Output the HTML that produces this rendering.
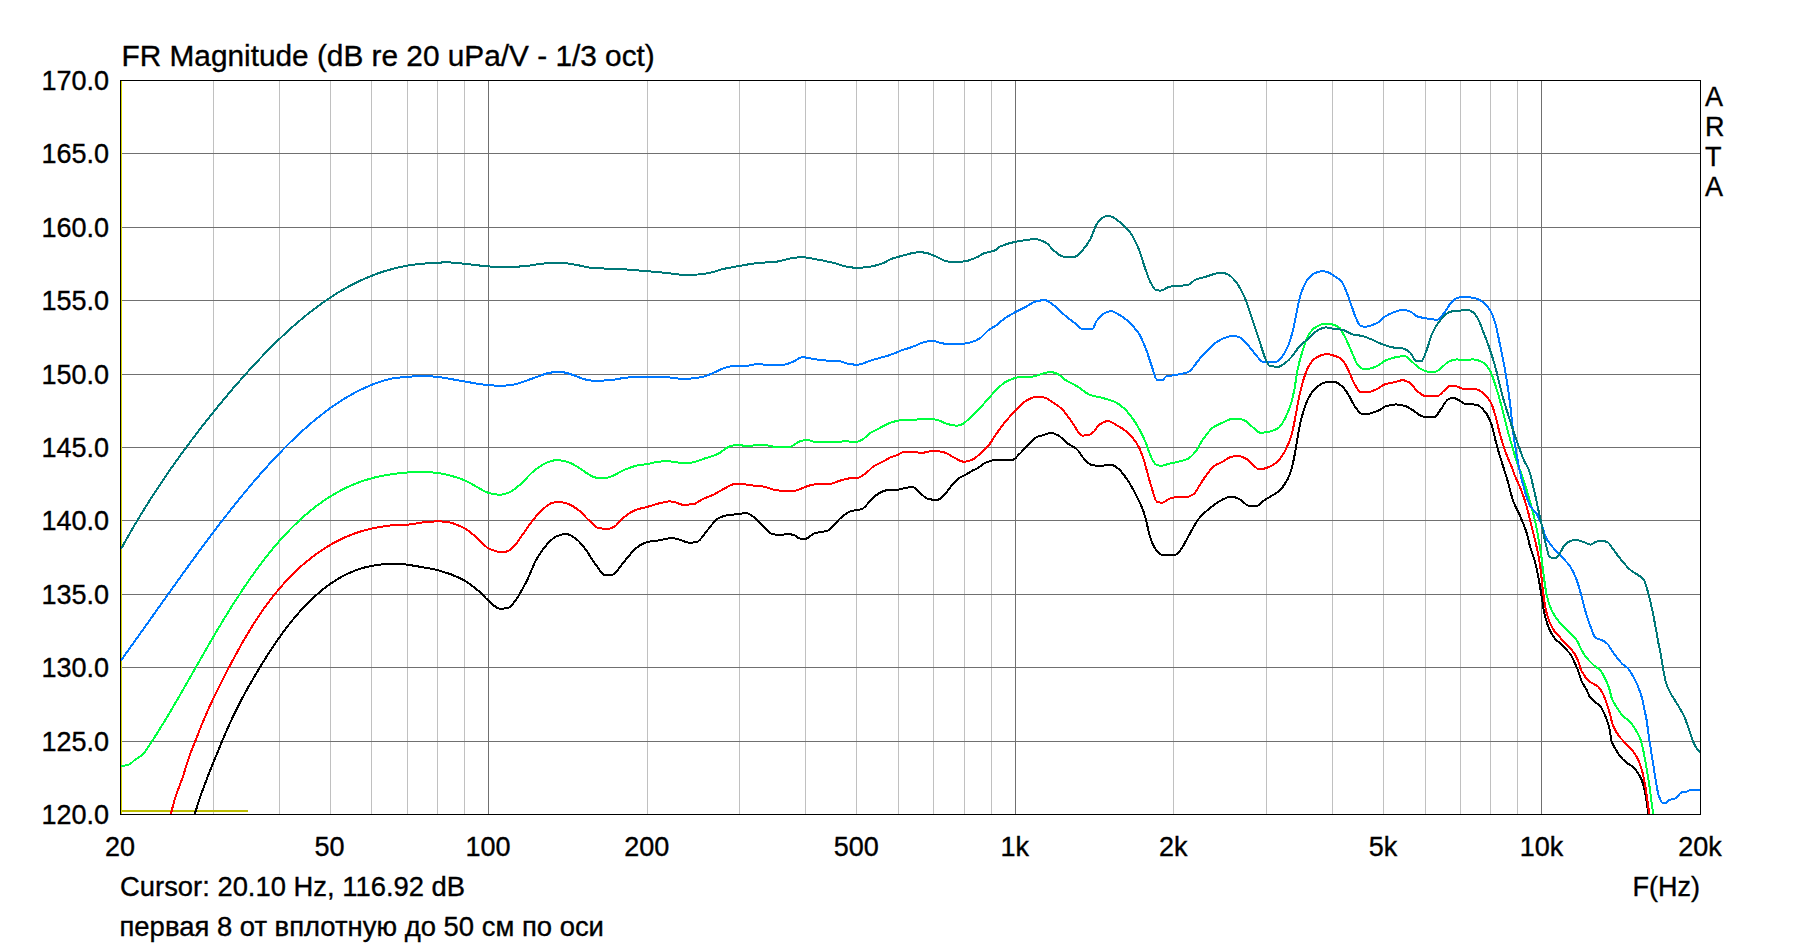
<!DOCTYPE html>
<html lang="ru"><head><meta charset="utf-8"><title>FR Magnitude</title>
<style>
html,body{margin:0;padding:0;background:#fff;}
body{width:1820px;height:946px;overflow:hidden;position:relative;font-family:"Liberation Sans",sans-serif;color:#000;}
svg{position:absolute;left:0;top:0;display:block}
text{font-family:"Liberation Sans",sans-serif;fill:#000;font-size:27px;stroke:#000;stroke-width:.35px}
.g line{shape-rendering:crispEdges}
.c path{fill:none;stroke-width:2;stroke-linejoin:round;stroke-linecap:butt;shape-rendering:crispEdges}
</style></head><body>
<svg width="1820" height="946" viewBox="0 0 1820 946">
<rect width="1820" height="946" fill="#fff"/>
<defs><clipPath id="cp"><rect x="121" y="81" width="1579" height="733"/></clipPath></defs>
<g class="g">
<line x1="213.5" y1="81" x2="213.5" y2="814" stroke="#c0c0c0"/>
<line x1="279.5" y1="81" x2="279.5" y2="814" stroke="#c0c0c0"/>
<line x1="330.5" y1="81" x2="330.5" y2="814" stroke="#c0c0c0"/>
<line x1="371.5" y1="81" x2="371.5" y2="814" stroke="#c0c0c0"/>
<line x1="407.5" y1="81" x2="407.5" y2="814" stroke="#c0c0c0"/>
<line x1="437.5" y1="81" x2="437.5" y2="814" stroke="#c0c0c0"/>
<line x1="464.5" y1="81" x2="464.5" y2="814" stroke="#c0c0c0"/>
<line x1="647.5" y1="81" x2="647.5" y2="814" stroke="#c0c0c0"/>
<line x1="739.5" y1="81" x2="739.5" y2="814" stroke="#c0c0c0"/>
<line x1="805.5" y1="81" x2="805.5" y2="814" stroke="#c0c0c0"/>
<line x1="856.5" y1="81" x2="856.5" y2="814" stroke="#c0c0c0"/>
<line x1="898.5" y1="81" x2="898.5" y2="814" stroke="#c0c0c0"/>
<line x1="933.5" y1="81" x2="933.5" y2="814" stroke="#c0c0c0"/>
<line x1="964.5" y1="81" x2="964.5" y2="814" stroke="#c0c0c0"/>
<line x1="991.5" y1="81" x2="991.5" y2="814" stroke="#c0c0c0"/>
<line x1="1173.5" y1="81" x2="1173.5" y2="814" stroke="#c0c0c0"/>
<line x1="1266.5" y1="81" x2="1266.5" y2="814" stroke="#c0c0c0"/>
<line x1="1332.5" y1="81" x2="1332.5" y2="814" stroke="#c0c0c0"/>
<line x1="1383.5" y1="81" x2="1383.5" y2="814" stroke="#c0c0c0"/>
<line x1="1425.5" y1="81" x2="1425.5" y2="814" stroke="#c0c0c0"/>
<line x1="1460.5" y1="81" x2="1460.5" y2="814" stroke="#c0c0c0"/>
<line x1="1490.5" y1="81" x2="1490.5" y2="814" stroke="#c0c0c0"/>
<line x1="1517.5" y1="81" x2="1517.5" y2="814" stroke="#c0c0c0"/>
<line x1="488.5" y1="81" x2="488.5" y2="814" stroke="#707070"/>
<line x1="1015.5" y1="81" x2="1015.5" y2="814" stroke="#707070"/>
<line x1="1541.5" y1="81" x2="1541.5" y2="814" stroke="#707070"/>
<line x1="121" y1="153.5" x2="1700" y2="153.5" stroke="#707070"/>
<line x1="121" y1="227.5" x2="1700" y2="227.5" stroke="#707070"/>
<line x1="121" y1="300.5" x2="1700" y2="300.5" stroke="#707070"/>
<line x1="121" y1="374.5" x2="1700" y2="374.5" stroke="#707070"/>
<line x1="121" y1="447.5" x2="1700" y2="447.5" stroke="#707070"/>
<line x1="121" y1="520.5" x2="1700" y2="520.5" stroke="#707070"/>
<line x1="121" y1="594.5" x2="1700" y2="594.5" stroke="#707070"/>
<line x1="121" y1="667.5" x2="1700" y2="667.5" stroke="#707070"/>
<line x1="121" y1="741.5" x2="1700" y2="741.5" stroke="#707070"/>
</g>
<g class="g"><line x1="122" y1="811" x2="248" y2="811" stroke="#bcbc00" stroke-width="2"/><line x1="121.5" y1="81" x2="121.5" y2="814" stroke="#d4d400"/></g>
<g class="c" clip-path="url(#cp)">
<path stroke="#000000" d="M191.8 824.1C194.1 816.4 196.5 808.1 198.8 801.1C201.1 794.1 203.5 787.9 205.8 781.7C208.1 775.5 210.5 769.7 212.8 763.9C215.1 758.1 217.5 752.4 219.8 746.8C222.1 741.2 224.5 735.6 226.8 730.3C229.1 725.0 231.5 719.8 233.8 714.9C236.1 710.0 238.5 705.3 240.8 700.9C243.1 696.4 245.5 692.2 247.8 688.0C250.1 683.9 252.5 679.9 254.8 675.9C257.1 672.0 259.5 668.1 261.8 664.3C264.1 660.5 266.5 656.7 268.8 653.1C271.1 649.5 273.5 645.9 275.8 642.6C278.1 639.2 280.5 635.9 282.8 632.7C285.1 629.5 287.5 626.4 289.8 623.5C292.1 620.6 294.5 617.7 296.8 615.0C299.1 612.3 301.5 609.7 303.8 607.2C306.1 604.7 308.5 602.3 310.8 600.1C313.1 597.8 315.5 595.7 317.8 593.7C320.1 591.6 322.5 589.7 324.8 587.9C327.1 586.1 329.5 584.4 331.8 582.8C334.1 581.3 336.5 579.8 338.8 578.4C341.1 577.1 343.5 575.8 345.8 574.6C348.1 573.5 350.5 572.4 352.8 571.5C355.1 570.5 357.5 569.7 359.8 568.9C362.1 568.2 364.5 567.5 366.8 566.9C369.1 566.4 371.5 565.9 373.8 565.5C376.1 565.1 378.5 564.7 380.8 564.5C383.1 564.3 385.5 564.1 387.8 564.0C390.1 564.0 392.5 564.0 394.8 564.0C397.4 564.0 399.9 564.1 402.5 564.2C407.6 564.5 412.7 565.6 417.9 566.4C424.5 567.5 431.1 568.6 437.7 570.2C445.7 572.2 453.8 575.0 461.8 579.0C467.7 581.9 473.6 586.7 479.4 591.7C482.4 594.2 485.3 598.1 488.2 600.5C492.2 603.8 496.1 608.7 500.0 608.7C502.6 608.7 505.1 608.5 507.7 608.2C509.9 608.0 512.1 604.6 514.3 602.1C516.1 599.9 518.0 596.8 519.8 593.7C522.4 589.5 524.9 584.6 527.5 579.4C530.4 573.5 533.4 564.8 536.3 559.6C539.6 553.8 542.9 549.0 546.2 545.3C549.5 541.7 552.8 537.9 556.1 536.5C559.4 535.2 562.7 533.9 566.0 533.9C569.3 533.9 572.6 536.5 575.9 538.7C579.2 541.0 582.5 545.5 585.8 549.7C589.4 554.4 593.1 561.7 596.8 566.2C599.7 569.8 602.6 575.5 605.6 575.5C608.1 575.5 610.7 575.0 613.2 574.4C616.5 573.6 619.8 566.7 623.1 562.9C627.9 557.5 632.7 550.4 637.4 547.1C640.7 544.8 644.0 542.8 647.3 542.0C651.0 541.2 654.7 541.1 658.3 540.5C662.7 539.8 667.1 538.1 671.5 538.1C673.7 538.1 675.9 538.7 678.1 539.2C681.8 540.0 685.4 542.7 689.1 542.7C691.7 542.7 694.2 542.4 696.8 542.0C700.1 541.5 703.4 534.7 706.7 531.1C710.7 526.6 714.8 519.7 718.8 517.9C722.1 516.4 725.4 515.4 728.7 515.0C732.0 514.5 735.3 514.5 738.6 514.1C741.2 513.8 743.7 513.0 746.3 513.0C750.0 513.0 753.6 517.2 757.3 520.1C760.2 522.4 763.1 526.2 766.1 528.9C768.3 530.8 770.5 534.1 772.7 534.3C775.6 534.6 778.5 534.8 781.5 534.8C783.7 534.8 785.9 533.9 788.1 533.9C790.3 533.9 792.5 534.7 794.7 535.4C796.5 536.1 798.3 538.7 800.2 538.7C802.0 538.7 803.8 538.7 805.7 538.7C808.6 538.7 811.5 534.2 814.5 533.2C818.9 531.9 823.3 532.1 827.7 530.6C832.1 529.2 836.4 521.3 840.8 517.9C844.1 515.3 847.4 512.3 850.7 511.3C854.4 510.1 858.1 510.3 861.7 509.1C865.8 507.7 869.8 500.0 873.8 497.0C876.8 494.7 879.7 492.5 882.6 491.5C885.1 490.6 887.5 489.5 890.0 489.5C892.9 489.5 895.9 489.5 898.8 489.5C901.0 489.5 903.2 488.0 905.4 487.8C908.0 487.4 910.5 487.1 913.1 487.1C915.3 487.1 917.5 490.8 919.7 492.6C922.6 494.9 925.6 498.8 928.5 499.2C931.4 499.6 934.3 499.8 937.3 499.8C939.5 499.8 941.7 497.4 943.9 495.4C946.4 493.2 949.0 488.4 951.6 485.6C954.1 482.7 956.7 479.6 959.3 477.9C961.5 476.4 963.7 475.8 965.9 474.6C968.1 473.4 970.3 471.8 972.5 470.6C974.3 469.6 976.1 469.0 978.0 468.0C980.2 466.7 982.4 464.0 984.6 463.1C989.0 461.3 993.4 459.6 997.8 459.6C1002.9 459.6 1008.0 459.6 1013.1 459.6C1015.0 459.6 1016.8 456.5 1018.6 454.8C1021.9 451.7 1025.2 448.0 1028.5 444.9C1031.5 442.1 1034.4 437.9 1037.3 436.7C1039.5 435.8 1041.7 435.6 1043.9 435.0C1046.1 434.3 1048.3 432.8 1050.5 432.8C1053.1 432.8 1055.7 434.2 1058.2 435.4C1061.5 437.0 1064.8 441.4 1068.1 443.8C1071.1 445.9 1074.0 446.7 1076.9 449.3C1079.1 451.2 1081.3 455.8 1083.5 458.1C1086.4 461.1 1089.4 465.0 1092.3 465.3C1095.2 465.6 1098.2 465.8 1101.1 465.8C1104.4 465.8 1107.7 464.7 1111.0 464.7C1113.6 464.7 1116.1 467.1 1118.7 469.1C1121.6 471.3 1124.6 475.8 1127.5 480.1C1130.4 484.3 1133.4 489.7 1136.3 495.4C1138.5 499.7 1140.7 503.8 1142.9 509.7C1144.0 512.7 1145.1 516.6 1146.2 520.7C1147.3 524.9 1148.4 531.6 1149.5 535.0C1151.3 540.8 1153.1 545.6 1155.0 548.2C1157.2 551.4 1159.4 554.8 1161.6 554.8C1166.0 554.8 1170.4 554.8 1174.8 554.8C1176.6 554.8 1178.4 552.4 1180.3 550.4C1183.2 547.3 1186.1 540.0 1189.1 535.0C1192.4 529.4 1195.7 522.6 1199.0 518.5C1202.6 514.1 1206.3 510.9 1210.0 508.0C1214.0 504.8 1218.0 501.8 1222.1 499.8C1225.0 498.5 1227.9 496.5 1230.8 496.5C1233.8 496.5 1236.7 497.9 1239.6 499.2C1242.6 500.4 1245.5 505.3 1248.4 505.8C1251.0 506.2 1253.6 506.4 1256.1 506.4C1258.7 506.4 1261.3 502.2 1263.8 500.5C1265.9 499.1 1267.9 498.1 1270.0 496.8C1272.8 495.1 1275.6 493.8 1278.5 491.5C1281.3 489.1 1284.1 485.6 1286.9 480.6C1288.6 477.7 1290.2 473.3 1291.8 467.8C1293.0 463.7 1294.2 457.2 1295.4 450.9C1296.6 444.5 1297.8 435.0 1299.0 429.1C1300.7 421.3 1302.3 414.7 1303.9 409.7C1305.5 404.8 1307.1 400.5 1308.7 397.6C1311.1 393.3 1313.6 390.0 1316.0 388.0C1318.8 385.5 1321.6 383.0 1324.5 382.6C1327.7 382.2 1330.9 381.9 1334.1 381.9C1337.0 381.9 1339.8 384.4 1342.6 386.7C1344.6 388.4 1346.6 392.0 1348.7 395.2C1350.7 398.4 1352.7 403.4 1354.7 406.1C1357.1 409.4 1359.5 413.9 1362.0 413.9C1363.6 413.9 1365.2 413.9 1366.8 413.9C1370.4 413.9 1374.1 412.3 1377.7 410.9C1380.5 409.9 1383.3 406.9 1386.2 406.1C1389.4 405.2 1392.6 404.4 1395.9 404.4C1399.1 404.4 1402.3 405.2 1405.5 406.1C1408.0 406.8 1410.4 408.7 1412.8 410.2C1415.2 411.7 1417.6 414.3 1420.1 415.3C1422.5 416.3 1424.9 417.5 1427.3 417.5C1429.7 417.5 1432.2 417.3 1434.6 417.0C1436.6 416.7 1438.6 412.3 1440.6 409.7C1443.0 406.6 1445.5 401.0 1447.9 399.6C1449.5 398.6 1451.1 397.6 1452.7 397.6C1454.7 397.6 1456.8 399.1 1458.8 400.1C1460.8 401.0 1462.8 403.3 1464.8 403.7C1468.9 404.4 1472.9 404.1 1476.9 404.9C1479.8 405.4 1482.6 408.7 1485.4 412.2C1487.4 414.6 1489.4 418.8 1491.5 424.3C1493.1 428.6 1494.7 437.7 1496.3 443.6C1497.9 449.5 1499.5 454.7 1501.1 460.0C1503.1 466.6 1505.2 472.5 1507.2 479.4C1509.2 486.2 1511.2 495.6 1513.2 501.1C1515.7 507.7 1518.1 511.1 1520.5 516.9C1522.5 521.7 1524.5 526.1 1526.5 532.6C1527.8 536.5 1529.0 543.0 1530.2 547.1C1531.8 552.7 1533.4 555.7 1535.0 561.7C1536.2 566.1 1537.4 572.2 1538.6 578.6C1539.5 582.9 1540.3 588.3 1541.1 593.1C1542.3 600.4 1543.5 610.0 1544.7 614.9C1546.3 621.5 1547.9 626.0 1549.5 629.4C1551.7 634.1 1553.9 637.8 1556.1 640.0C1557.8 641.8 1559.6 642.3 1561.4 644.0C1562.2 644.8 1563.1 646.2 1564.0 647.3C1566.2 649.9 1568.4 651.3 1570.6 654.5C1571.9 656.5 1573.3 659.6 1574.6 662.5C1575.9 665.3 1577.2 668.1 1578.5 671.7C1579.4 674.1 1580.3 678.2 1581.2 680.3C1583.0 684.5 1584.7 686.1 1586.5 689.6C1587.6 691.7 1588.7 695.3 1589.8 696.8C1593.5 702.2 1597.3 702.3 1601.0 707.4C1602.3 709.2 1603.7 712.4 1605.0 715.3C1605.6 716.8 1606.3 718.2 1607.0 720.0C1607.8 722.5 1608.7 725.3 1609.6 729.3C1610.3 732.2 1610.9 739.0 1611.6 741.1C1612.9 745.3 1614.2 746.7 1615.6 749.1C1617.1 751.8 1618.6 754.4 1620.2 756.3C1622.2 758.8 1624.1 760.7 1626.1 762.3C1628.3 764.1 1630.5 765.0 1632.7 766.9C1634.5 768.5 1636.3 770.3 1638.0 772.9C1639.3 774.8 1640.7 777.4 1642.0 780.8C1642.9 783.1 1643.7 786.1 1644.6 790.0C1645.3 793.0 1645.9 797.9 1646.6 801.9C1647.3 805.9 1647.9 810.0 1648.6 814.1"/>
<path stroke="#ff0000" d="M168.3 824.5C170.6 815.5 172.9 804.9 175.3 797.4C177.6 790.0 179.9 785.3 182.3 778.5C184.6 771.7 186.9 763.2 189.3 756.6C191.6 750.0 193.9 744.5 196.3 738.6C198.6 732.7 200.9 726.6 203.3 721.0C205.6 715.4 207.9 710.1 210.3 705.0C212.6 699.9 214.9 695.1 217.3 690.4C219.6 685.6 221.9 681.0 224.3 676.4C226.6 671.9 228.9 667.4 231.3 663.0C233.6 658.6 235.9 654.3 238.3 650.0C240.6 645.8 242.9 641.7 245.3 637.7C247.6 633.7 249.9 629.9 252.3 626.1C254.6 622.4 256.9 618.8 259.3 615.3C261.6 611.9 263.9 608.5 266.3 605.3C268.6 602.1 270.9 599.1 273.3 596.1C275.6 593.2 277.9 590.3 280.3 587.6C282.6 584.9 284.9 582.3 287.3 579.8C289.6 577.3 291.9 574.9 294.3 572.7C296.6 570.4 298.9 568.2 301.3 566.1C303.6 564.0 305.9 562.0 308.3 560.2C310.6 558.3 312.9 556.5 315.3 554.7C317.6 553.0 319.9 551.4 322.3 549.9C324.6 548.3 326.9 546.8 329.3 545.5C331.6 544.1 333.9 542.8 336.3 541.6C338.6 540.3 340.9 539.2 343.3 538.1C345.6 537.1 347.9 536.1 350.3 535.1C352.6 534.2 354.9 533.4 357.3 532.6C359.6 531.8 361.9 531.1 364.3 530.4C366.6 529.8 368.9 529.2 371.3 528.7C373.6 528.1 375.9 527.7 378.3 527.2C380.6 526.8 382.9 526.5 385.3 526.1C387.6 525.8 389.9 525.5 392.3 525.3C394.6 525.0 396.9 524.6 399.3 524.6C401.8 524.6 404.3 524.7 406.9 524.7C412.0 524.7 417.1 523.0 422.3 522.5C427.4 522.0 432.5 521.4 437.7 521.4C440.6 521.4 443.5 521.6 446.4 521.8C452.3 522.3 458.2 525.1 464.0 528.0C469.2 530.5 474.3 535.7 479.4 540.1C482.4 542.6 485.3 546.8 488.2 548.2C492.2 550.1 496.1 551.9 500.0 551.9C502.2 551.9 504.4 551.8 506.6 551.5C508.8 551.2 511.0 549.0 513.2 547.1C516.1 544.5 519.1 539.4 522.0 535.4C525.7 530.5 529.3 524.6 533.0 520.1C535.9 516.4 538.8 512.7 541.8 510.2C545.1 507.3 548.4 504.0 551.7 503.1C554.2 502.4 556.8 501.8 559.4 501.8C562.3 501.8 565.2 503.0 568.2 504.0C571.8 505.3 575.5 507.8 579.2 510.6C582.1 512.8 585.0 516.8 588.0 519.4C591.6 522.7 595.3 527.7 599.0 528.2C601.9 528.6 604.8 528.9 607.8 528.9C610.0 528.9 612.1 527.7 614.3 526.7C617.3 525.2 620.2 520.1 623.1 517.9C627.5 514.4 631.9 511.3 636.3 509.7C640.0 508.4 643.7 507.9 647.3 506.9C651.0 505.8 654.7 504.4 658.3 503.6C662.0 502.7 665.7 501.4 669.3 501.4C671.5 501.4 673.7 502.0 675.9 502.5C678.1 503.0 680.3 504.7 682.5 504.7C686.2 504.7 689.8 504.5 693.5 504.2C696.4 504.0 699.4 500.6 702.3 499.2C706.0 497.4 709.6 496.5 713.3 494.8C717.0 493.1 720.6 490.4 724.3 488.6C727.6 487.0 730.9 484.2 734.2 484.2C736.8 484.2 739.3 484.2 741.9 484.2C745.6 484.2 749.2 485.1 752.9 485.5C756.6 485.9 760.2 486.1 763.9 486.6C767.5 487.2 771.2 489.4 774.9 489.9C778.5 490.5 782.2 491.0 785.9 491.0C788.8 491.0 791.7 490.9 794.7 490.8C797.6 490.7 800.5 488.7 803.5 487.7C807.1 486.5 810.8 484.4 814.5 484.4C818.9 484.4 823.3 484.4 827.7 484.4C831.3 484.4 835.0 482.2 838.6 481.1C842.3 480.1 846.0 478.7 849.6 478.3C852.6 477.9 855.5 478.0 858.4 477.6C860.6 477.3 862.8 475.4 865.0 473.9C868.0 471.9 870.9 468.1 873.8 466.2C877.5 463.8 881.2 462.7 884.8 460.7C886.6 459.7 888.3 458.4 890.0 457.6C892.2 456.7 894.4 456.3 896.6 455.4C899.2 454.4 901.7 451.9 904.3 451.9C907.6 451.9 910.9 451.9 914.2 451.9C916.4 451.9 918.6 453.0 920.8 453.0C925.2 453.0 929.6 450.8 934.0 450.8C937.6 450.8 941.3 451.6 945.0 452.6C947.9 453.3 950.8 456.0 953.8 457.4C957.1 459.0 960.4 461.8 963.7 461.8C966.6 461.8 969.5 460.7 972.5 459.6C975.0 458.6 977.6 455.9 980.2 453.7C983.1 451.1 986.0 448.4 989.0 444.9C991.2 442.2 993.4 438.1 995.6 435.0C998.5 430.8 1001.4 426.5 1004.3 422.9C1008.0 418.4 1011.7 414.6 1015.3 410.8C1018.3 407.7 1021.2 403.8 1024.1 402.0C1028.5 399.3 1032.9 396.5 1037.3 396.5C1040.3 396.5 1043.2 397.2 1046.1 398.0C1048.3 398.7 1050.5 400.9 1052.7 402.4C1055.7 404.4 1058.6 405.9 1061.5 408.6C1065.2 411.9 1068.9 418.1 1072.5 422.9C1075.8 427.2 1079.1 435.6 1082.4 435.6C1084.6 435.6 1086.8 435.4 1089.0 435.0C1090.8 434.6 1092.7 432.8 1094.5 431.0C1096.0 429.6 1097.4 426.1 1098.9 425.1C1101.8 423.0 1104.8 421.1 1107.7 421.1C1110.6 421.1 1113.6 423.5 1116.5 425.1C1120.2 427.0 1123.8 429.2 1127.5 432.3C1130.4 434.8 1133.4 438.1 1136.3 442.7C1138.5 446.1 1140.7 451.0 1142.9 457.0C1144.4 461.0 1145.8 467.2 1147.3 472.4C1148.8 477.5 1150.2 483.4 1151.7 487.8C1153.5 493.2 1155.3 501.6 1157.2 502.0C1159.0 502.5 1160.8 502.7 1162.7 502.7C1164.9 502.7 1167.1 499.5 1169.3 498.7C1171.5 498.0 1173.7 497.3 1175.9 497.2C1179.5 497.1 1183.2 497.1 1186.9 497.0C1189.1 496.9 1191.3 495.7 1193.5 494.3C1195.7 493.0 1197.9 487.8 1200.1 484.5C1202.3 481.2 1204.5 477.4 1206.7 474.6C1209.2 471.2 1211.8 467.5 1214.4 465.8C1216.9 464.0 1219.5 463.4 1222.1 462.0C1225.0 460.5 1227.9 457.7 1230.8 457.0C1233.0 456.4 1235.2 455.9 1237.4 455.9C1240.0 455.9 1242.6 457.0 1245.1 458.1C1247.7 459.2 1250.3 462.6 1252.8 464.7C1255.0 466.4 1257.2 469.5 1259.4 469.5C1263.0 469.5 1266.5 468.0 1270.0 466.6C1272.4 465.6 1274.8 464.0 1277.3 461.8C1280.1 459.2 1282.9 455.0 1285.7 449.7C1287.7 445.9 1289.8 440.8 1291.8 433.9C1293.0 429.8 1294.2 423.0 1295.4 417.0C1296.6 411.0 1297.8 403.2 1299.0 397.6C1300.7 390.2 1302.3 383.2 1303.9 378.3C1305.5 373.3 1307.1 368.8 1308.7 366.2C1311.1 362.2 1313.6 359.0 1316.0 357.7C1319.6 355.7 1323.2 354.1 1326.9 354.1C1329.7 354.1 1332.5 355.1 1335.3 356.0C1337.8 356.8 1340.2 358.0 1342.6 360.1C1344.6 361.9 1346.6 367.0 1348.7 371.0C1350.7 375.0 1352.7 381.0 1354.7 384.3C1356.7 387.7 1358.7 392.3 1360.8 392.3C1362.8 392.3 1364.8 392.3 1366.8 392.3C1370.0 392.3 1373.3 390.5 1376.5 389.2C1379.3 388.0 1382.1 385.2 1385.0 384.3C1388.6 383.1 1392.2 382.8 1395.9 381.9C1398.1 381.4 1400.4 380.2 1402.6 380.2C1405.2 380.2 1407.8 381.6 1410.4 383.1C1412.4 384.3 1414.4 388.7 1416.4 390.4C1419.7 393.1 1422.9 396.4 1426.1 396.4C1429.7 396.4 1433.4 396.4 1437.0 396.4C1439.4 396.4 1441.8 392.3 1444.3 390.4C1446.3 388.7 1448.3 385.5 1450.3 385.5C1452.3 385.5 1454.3 385.9 1456.4 386.3C1458.4 386.6 1460.4 388.5 1462.4 388.7C1466.8 389.0 1471.3 388.8 1475.7 389.2C1478.1 389.3 1480.6 391.1 1483.0 392.8C1485.4 394.5 1487.8 397.2 1490.2 401.3C1491.9 404.0 1493.5 409.3 1495.1 414.6C1496.7 419.8 1498.3 428.2 1499.9 433.9C1501.9 441.1 1504.0 447.8 1506.0 453.3C1508.0 458.8 1510.0 462.6 1512.0 467.8C1512.8 469.9 1513.6 472.4 1514.4 474.5C1516.9 480.7 1519.3 485.1 1521.7 491.5C1523.3 495.7 1524.9 500.4 1526.5 506.0C1527.8 510.2 1529.0 515.7 1530.2 520.5C1531.8 527.0 1533.4 532.9 1535.0 539.9C1536.2 545.1 1537.4 549.9 1538.6 556.8C1539.5 561.4 1540.3 567.4 1541.1 573.8C1541.9 580.1 1542.7 590.0 1543.5 595.5C1544.7 603.8 1545.9 610.8 1547.1 614.9C1549.1 621.8 1551.2 626.2 1553.2 629.4C1555.6 633.3 1558.0 634.8 1560.4 637.9C1561.0 638.6 1561.5 639.4 1562.0 640.0C1564.4 642.8 1566.9 644.6 1569.3 647.3C1571.1 649.2 1572.8 651.1 1574.6 653.9C1575.9 655.9 1577.2 658.5 1578.5 661.8C1579.4 664.0 1580.3 668.6 1581.2 670.4C1584.1 676.2 1586.9 679.2 1589.8 681.6C1592.6 684.0 1595.5 684.3 1598.4 686.9C1600.1 688.5 1601.9 691.9 1603.7 695.5C1605.0 698.2 1606.3 702.0 1607.6 706.1C1608.5 708.8 1609.4 712.1 1610.3 715.3C1611.1 718.5 1612.0 723.1 1612.9 725.3C1614.9 730.3 1616.9 733.2 1618.9 735.9C1621.7 739.8 1624.6 742.0 1627.4 745.1C1629.4 747.3 1631.4 749.0 1633.4 751.7C1635.4 754.4 1637.4 757.6 1639.3 762.3C1640.4 764.9 1641.5 768.5 1642.6 772.9C1643.5 776.3 1644.4 781.0 1645.3 786.1C1645.9 789.9 1646.6 794.6 1647.3 799.3C1647.9 803.9 1648.6 809.2 1649.3 814.1"/>
<path stroke="#00ff40" d="M120.9 766.4C123.8 765.7 126.7 765.5 129.5 764.4C131.3 763.7 133.1 761.1 134.8 759.8C137.5 757.8 140.1 757.0 142.8 754.6C145.1 752.5 147.4 748.0 149.8 744.5C152.1 741.1 154.4 737.5 156.8 733.8C159.1 730.1 161.4 726.3 163.8 722.5C166.1 718.7 168.4 714.8 170.8 710.8C173.1 706.9 175.4 702.9 177.8 698.8C180.1 694.8 182.4 690.7 184.8 686.7C187.1 682.6 189.4 678.5 191.8 674.4C194.1 670.3 196.4 666.2 198.8 662.1C201.1 658.0 203.4 653.9 205.8 649.9C208.1 645.8 210.4 641.8 212.8 637.8C215.1 633.8 217.4 629.9 219.8 626.0C222.1 622.1 224.4 618.2 226.8 614.4C229.1 610.7 231.4 606.9 233.8 603.2C236.1 599.6 238.4 595.9 240.8 592.4C243.1 588.9 245.4 585.4 247.8 582.0C250.1 578.6 252.4 575.3 254.8 572.1C257.1 568.8 259.4 565.7 261.8 562.6C264.1 559.5 266.4 556.5 268.8 553.6C271.1 550.7 273.4 547.9 275.8 545.2C278.1 542.4 280.4 539.8 282.8 537.2C285.1 534.7 287.4 532.2 289.8 529.8C292.1 527.4 294.4 525.1 296.8 522.9C299.1 520.6 301.4 518.5 303.8 516.4C306.1 514.4 308.4 512.4 310.8 510.5C313.1 508.6 315.4 506.8 317.8 505.0C320.1 503.3 322.4 501.7 324.8 500.1C327.1 498.5 329.4 497.0 331.8 495.6C334.1 494.2 336.4 492.8 338.8 491.5C341.1 490.3 343.4 489.1 345.8 487.9C348.1 486.8 350.4 485.8 352.8 484.8C355.1 483.8 357.4 482.9 359.8 482.0C362.1 481.2 364.4 480.4 366.8 479.7C369.1 479.0 371.4 478.3 373.8 477.7C376.1 477.1 378.4 476.6 380.8 476.1C383.1 475.6 385.4 475.2 387.8 474.8C390.1 474.4 392.4 474.1 394.8 473.8C398.8 473.4 402.8 472.8 406.9 472.5C412.0 472.2 417.1 471.9 422.3 471.9C427.4 471.9 432.5 472.4 437.7 473.0C441.3 473.4 445.0 474.3 448.6 475.2C453.8 476.4 458.9 478.0 464.0 480.0C469.2 482.1 474.3 485.7 479.4 488.4C482.4 489.9 485.3 492.0 488.2 492.8C492.2 493.8 496.1 494.8 500.0 494.8C502.9 494.8 505.9 493.6 508.8 492.6C512.5 491.2 516.1 487.9 519.8 484.9C524.2 481.3 528.6 475.2 533.0 471.7C537.4 468.2 541.8 464.5 546.2 462.9C549.8 461.5 553.5 460.0 557.2 460.0C560.8 460.0 564.5 461.2 568.2 462.2C571.8 463.3 575.5 465.8 579.2 467.9C582.1 469.7 585.0 472.3 588.0 473.9C590.9 475.5 593.8 477.8 596.8 477.8C600.4 477.8 604.1 477.8 607.8 477.6C610.7 477.5 613.6 475.2 616.5 473.9C619.5 472.5 622.4 470.7 625.3 469.5C629.0 468.0 632.7 466.5 636.3 465.7C640.0 464.9 643.7 464.6 647.3 464.0C651.0 463.3 654.7 462.2 658.3 461.8C661.3 461.5 664.2 461.1 667.1 461.1C670.1 461.1 673.0 461.8 675.9 462.2C678.9 462.6 681.8 463.5 684.7 463.5C687.6 463.5 690.6 462.8 693.5 462.2C697.2 461.5 700.8 459.7 704.5 458.5C708.9 457.0 713.3 456.1 717.7 454.1C721.4 452.4 725.0 448.2 728.7 446.8C731.3 445.9 733.8 444.8 736.4 444.8C739.7 444.8 743.0 445.9 746.3 445.9C750.0 445.9 753.6 445.3 757.3 445.3C760.2 445.3 763.1 445.3 766.1 445.3C769.0 445.3 771.9 446.8 774.9 446.8C780.0 446.8 785.1 446.8 790.3 446.8C793.2 446.8 796.1 442.5 799.1 441.6C801.6 440.7 804.2 439.8 806.8 439.8C810.1 439.8 813.4 442.4 816.7 442.4C822.5 442.4 828.4 442.4 834.2 442.4C837.9 442.4 841.6 441.3 845.2 441.3C848.9 441.3 852.6 442.0 856.2 442.0C858.4 442.0 860.6 440.6 862.8 439.4C865.0 438.1 867.2 435.1 869.4 433.6C873.1 431.1 876.8 429.6 880.4 427.7C883.6 426.0 886.8 423.9 890.0 422.9C893.7 421.7 897.3 420.5 901.0 420.2C906.1 419.9 911.3 419.9 916.4 419.6C920.1 419.4 923.7 418.5 927.4 418.5C931.0 418.5 934.7 419.4 938.4 420.2C941.3 420.9 944.2 423.2 947.2 424.0C950.5 424.8 953.8 425.7 957.1 425.7C958.9 425.7 960.7 424.8 962.6 424.0C965.5 422.7 968.4 419.0 971.4 416.3C975.0 412.9 978.7 409.2 982.4 405.3C985.3 402.2 988.2 398.6 991.2 395.4C993.4 393.0 995.6 390.4 997.8 388.4C1000.7 385.7 1003.6 382.8 1006.5 381.4C1010.9 379.3 1015.3 377.3 1019.7 377.0C1024.1 376.8 1028.5 376.9 1032.9 376.6C1036.6 376.4 1040.3 374.1 1043.9 373.3C1046.1 372.8 1048.3 372.0 1050.5 372.0C1052.7 372.0 1054.9 372.9 1057.1 373.7C1060.1 374.8 1063.0 378.5 1065.9 380.3C1069.6 382.6 1073.3 384.0 1076.9 386.2C1081.3 388.7 1085.7 393.4 1090.1 395.0C1093.8 396.2 1097.4 396.6 1101.1 397.6C1105.5 398.8 1109.9 399.7 1114.3 401.6C1117.2 402.8 1120.2 405.0 1123.1 407.5C1126.0 410.0 1129.0 413.5 1131.9 417.4C1134.8 421.3 1137.8 426.1 1140.7 431.7C1142.5 435.1 1144.4 439.3 1146.2 443.8C1147.7 447.4 1149.1 452.9 1150.6 455.9C1152.4 459.6 1154.2 464.0 1156.1 464.7C1157.9 465.3 1159.7 465.8 1161.6 465.8C1164.1 465.8 1166.7 464.2 1169.3 463.6C1172.2 462.9 1175.1 462.5 1178.1 461.8C1181.4 461.0 1184.7 460.3 1188.0 458.7C1190.5 457.5 1193.1 454.6 1195.7 451.5C1197.9 448.8 1200.1 443.6 1202.3 440.5C1205.9 435.3 1209.6 429.8 1213.3 427.3C1216.2 425.2 1219.1 424.2 1222.1 422.9C1225.0 421.5 1227.9 419.6 1230.8 419.1C1233.0 418.8 1235.2 418.5 1237.4 418.5C1240.0 418.5 1242.6 419.6 1245.1 420.7C1247.7 421.8 1250.3 425.3 1252.8 427.3C1255.4 429.3 1258.0 432.8 1260.5 432.8C1263.7 432.8 1266.8 432.2 1270.0 431.5C1272.8 430.9 1275.6 429.8 1278.5 427.9C1280.5 426.5 1282.5 423.0 1284.5 419.4C1286.5 415.9 1288.6 411.1 1290.6 404.9C1291.8 401.2 1293.0 396.2 1294.2 390.4C1295.4 384.6 1296.6 374.2 1297.8 368.6C1299.4 361.1 1301.1 355.4 1302.7 350.4C1304.7 344.2 1306.7 337.8 1308.7 334.7C1311.1 331.0 1313.6 328.3 1316.0 327.0C1318.8 325.4 1321.6 323.8 1324.5 323.8C1326.9 323.8 1329.3 324.0 1331.7 324.3C1334.1 324.6 1336.6 325.8 1339.0 327.4C1341.0 328.8 1343.0 333.4 1345.0 337.1C1347.0 340.9 1349.1 346.0 1351.1 350.4C1353.1 354.9 1355.1 361.0 1357.1 363.8C1358.7 365.9 1360.4 368.6 1362.0 368.6C1364.4 368.6 1366.8 368.6 1369.2 368.6C1372.1 368.6 1374.9 367.0 1377.7 365.7C1380.5 364.4 1383.3 361.3 1386.2 360.1C1389.4 358.8 1392.6 357.8 1395.9 357.2C1398.7 356.7 1401.5 356.0 1404.3 356.0C1406.7 356.0 1409.2 359.4 1411.6 361.3C1414.4 363.6 1417.2 367.1 1420.1 368.6C1422.5 369.9 1424.9 371.5 1427.3 371.5C1430.1 371.5 1433.0 371.5 1435.8 371.5C1437.8 371.5 1439.8 368.9 1441.8 367.4C1444.3 365.6 1446.7 362.3 1449.1 361.3C1451.5 360.4 1453.9 359.4 1456.4 359.4C1458.8 359.4 1461.2 360.1 1463.6 360.1C1466.8 360.1 1470.1 359.4 1473.3 359.4C1476.5 359.4 1479.8 360.9 1483.0 362.5C1485.4 363.8 1487.8 366.9 1490.2 371.0C1491.9 373.7 1493.5 379.5 1495.1 384.3C1496.7 389.1 1498.3 394.3 1499.9 400.1C1501.9 407.3 1504.0 416.6 1506.0 424.3C1508.0 431.9 1510.0 439.2 1512.0 446.0C1514.0 452.9 1516.1 459.8 1518.1 465.4C1519.3 468.8 1520.5 471.1 1521.7 474.5C1523.7 480.1 1525.7 487.0 1527.8 493.9C1529.8 500.7 1531.8 507.4 1533.8 515.7C1535.0 520.6 1536.2 526.3 1537.4 532.6C1538.6 539.0 1539.9 546.0 1541.1 554.4C1541.9 560.0 1542.7 567.7 1543.5 573.8C1544.3 579.8 1545.1 586.5 1545.9 590.7C1547.1 597.0 1548.3 601.9 1549.5 605.2C1551.6 610.7 1553.6 614.3 1555.6 617.3C1558.4 621.5 1561.2 624.0 1564.1 627.0C1566.9 630.0 1569.7 632.5 1572.5 635.5C1573.9 636.9 1575.2 638.1 1576.6 640.0C1578.1 642.2 1579.6 646.5 1581.2 649.3C1582.5 651.6 1583.8 654.1 1585.2 655.9C1588.2 660.0 1591.3 663.0 1594.4 665.8C1596.4 667.5 1598.4 668.2 1600.4 670.4C1601.9 672.1 1603.4 675.3 1605.0 678.3C1606.3 680.9 1607.6 683.8 1608.9 687.6C1610.0 690.7 1611.1 696.9 1612.2 699.5C1613.8 703.1 1615.3 705.0 1616.9 707.4C1619.1 710.8 1621.3 714.6 1623.5 716.7C1625.0 718.1 1626.6 718.6 1628.1 720.0C1630.5 722.1 1633.0 725.4 1635.4 729.3C1637.1 732.0 1638.9 734.9 1640.7 739.8C1641.5 742.3 1642.4 746.3 1643.3 750.4C1644.0 753.4 1644.6 757.2 1645.3 761.0C1645.9 764.7 1646.6 768.9 1647.3 772.9C1647.9 776.8 1648.6 780.4 1649.3 784.8C1649.9 789.1 1650.6 794.4 1651.2 799.3C1651.9 804.2 1652.6 809.2 1653.2 814.1"/>
<path stroke="#0078ff" d="M120.9 660.5C123.3 657.2 125.6 654.0 127.9 650.7C130.3 647.5 132.6 644.2 134.9 641.0C137.3 637.7 139.6 634.4 141.9 631.1C144.3 627.8 146.6 624.6 148.9 621.3C151.3 618.0 153.6 614.7 155.9 611.4C158.3 608.1 160.6 604.8 162.9 601.5C165.3 598.3 167.6 595.0 169.9 591.7C172.3 588.4 174.6 585.2 176.9 581.9C179.3 578.7 181.6 575.4 183.9 572.2C186.3 568.9 188.6 565.7 190.9 562.5C193.3 559.3 195.6 556.1 197.9 552.9C200.3 549.8 202.6 546.6 204.9 543.5C207.3 540.4 209.6 537.2 211.9 534.1C214.3 531.1 216.6 528.0 218.9 524.9C221.3 521.9 223.6 518.9 225.9 515.9C228.3 512.9 230.6 509.9 232.9 507.0C235.3 504.1 237.6 501.2 239.9 498.3C242.3 495.4 244.6 492.6 246.9 489.8C249.3 487.0 251.6 484.2 253.9 481.5C256.3 478.8 258.6 476.1 260.9 473.4C263.3 470.8 265.6 468.2 267.9 465.6C270.3 463.0 272.6 460.5 274.9 458.0C277.3 455.5 279.6 453.1 281.9 450.7C284.3 448.3 286.6 445.9 288.9 443.6C291.3 441.3 293.6 439.1 295.9 436.9C298.3 434.7 300.6 432.5 302.9 430.4C305.3 428.3 307.6 426.2 309.9 424.2C312.3 422.2 314.6 420.3 316.9 418.4C319.3 416.5 321.6 414.7 323.9 412.9C326.3 411.1 328.6 409.4 330.9 407.7C333.3 406.0 335.6 404.4 337.9 402.9C340.3 401.3 342.6 399.8 344.9 398.4C347.3 397.0 349.6 395.6 351.9 394.3C354.3 393.0 356.6 391.8 358.9 390.6C361.3 389.5 363.6 388.3 365.9 387.3C368.3 386.3 370.6 385.3 372.9 384.4C375.3 383.5 377.6 382.6 379.9 381.9C382.3 381.1 384.6 380.4 386.9 379.8C389.3 379.1 391.6 378.4 393.9 378.1C398.3 377.5 402.6 377.3 406.9 377.0C412.0 376.6 417.1 375.9 422.3 375.9C427.4 375.9 432.5 376.5 437.7 377.0C446.4 377.8 455.2 380.0 464.0 381.4C472.1 382.7 480.2 384.5 488.2 385.1C492.2 385.4 496.1 385.8 500.0 385.8C503.7 385.8 507.3 385.5 511.0 385.1C515.4 384.7 519.8 382.8 524.2 381.4C528.6 380.0 533.0 378.2 537.4 376.8C541.8 375.3 546.2 373.1 550.6 372.6C553.9 372.2 557.2 371.9 560.5 371.9C563.8 371.9 567.1 373.2 570.4 374.1C574.8 375.3 579.2 377.9 583.6 379.0C586.5 379.7 589.4 380.7 592.4 380.7C598.2 380.7 604.1 380.6 610.0 380.3C614.3 380.1 618.7 378.6 623.1 378.1C627.5 377.6 631.9 377.0 636.3 377.0C645.9 377.0 655.4 377.0 664.9 377.0C669.3 377.0 673.7 378.5 678.1 378.5C682.5 378.5 686.9 378.5 691.3 378.5C695.7 378.5 700.1 377.4 704.5 376.3C708.2 375.5 711.8 373.5 715.5 371.9C718.4 370.7 721.4 368.9 724.3 368.0C727.2 367.1 730.2 366.1 733.1 366.0C737.5 365.9 741.9 365.9 746.3 365.8C750.0 365.7 753.6 364.2 757.3 364.2C761.7 364.2 766.1 364.9 770.5 364.9C774.9 364.9 779.3 364.8 783.7 364.7C786.6 364.6 789.5 363.1 792.5 362.0C795.8 360.8 799.1 357.2 802.4 357.2C805.7 357.2 809.0 358.3 812.3 358.7C816.7 359.4 821.1 360.3 825.5 360.5C829.9 360.7 834.2 360.7 838.6 360.9C842.3 361.2 846.0 363.9 849.6 364.2C852.6 364.5 855.5 364.7 858.4 364.7C862.1 364.7 865.8 362.1 869.4 360.9C874.6 359.3 879.7 358.0 884.8 356.5C886.6 356.0 888.3 355.6 890.0 355.0C893.7 353.8 897.3 352.0 901.0 350.6C905.4 349.0 909.8 347.9 914.2 346.2C917.1 345.1 920.1 343.2 923.0 342.5C926.3 341.7 929.6 340.7 932.9 340.7C935.4 340.7 938.0 342.4 940.6 342.9C942.8 343.4 945.0 344.0 947.2 344.0C951.6 344.0 956.0 344.0 960.4 344.0C964.4 344.0 968.4 342.9 972.5 341.8C975.0 341.1 977.6 339.7 980.2 338.1C983.1 336.2 986.0 331.9 989.0 329.7C991.2 328.1 993.4 327.3 995.6 325.8C998.5 323.8 1001.4 320.8 1004.3 318.7C1008.0 316.2 1011.7 314.1 1015.3 312.1C1019.0 310.2 1022.7 308.6 1026.3 306.7C1029.3 305.1 1032.2 302.3 1035.1 301.6C1038.4 300.8 1041.7 300.1 1045.0 300.1C1047.6 300.1 1050.2 302.7 1052.7 304.5C1056.4 307.0 1060.1 311.2 1063.7 314.3C1067.4 317.5 1071.1 320.3 1074.7 323.1C1077.3 325.2 1079.8 329.1 1082.4 329.1C1085.7 329.1 1089.0 329.0 1092.3 328.9C1093.8 328.8 1095.2 322.9 1096.7 320.9C1099.3 317.6 1101.8 314.5 1104.4 313.2C1106.6 312.2 1108.8 311.1 1111.0 311.1C1113.2 311.1 1115.4 312.8 1117.6 313.9C1120.5 315.4 1123.5 317.4 1126.4 319.8C1130.4 323.2 1134.5 327.1 1138.5 333.0C1141.1 336.8 1143.6 343.1 1146.2 349.5C1148.0 354.2 1149.8 361.0 1151.7 366.0C1153.5 371.0 1155.3 379.9 1157.2 379.9C1159.0 379.9 1160.8 379.9 1162.7 379.9C1163.8 379.9 1164.9 376.9 1166.0 376.6C1168.5 375.8 1171.1 375.7 1173.7 375.3C1178.4 374.4 1183.2 373.9 1188.0 372.2C1192.0 370.7 1196.0 362.6 1200.1 358.3C1205.2 352.8 1210.3 346.5 1215.5 342.9C1218.4 340.9 1221.3 339.1 1224.2 338.1C1227.2 337.1 1230.1 335.9 1233.0 335.9C1235.2 335.9 1237.4 336.6 1239.6 337.4C1241.8 338.2 1244.0 340.8 1246.2 342.9C1249.2 345.8 1252.1 350.8 1255.0 353.9C1258.0 357.1 1260.9 362.1 1263.8 362.3C1265.9 362.4 1267.9 362.5 1270.0 362.5C1272.0 362.5 1274.0 362.2 1276.1 361.8C1278.1 361.4 1280.1 358.9 1282.1 356.5C1284.1 354.1 1286.1 350.3 1288.2 345.6C1289.8 341.8 1291.4 336.1 1293.0 329.9C1294.2 325.2 1295.4 318.6 1296.6 312.9C1297.8 307.3 1299.0 299.9 1300.3 296.0C1302.3 289.4 1304.3 284.5 1306.3 281.5C1308.7 277.8 1311.1 274.9 1313.6 273.7C1316.4 272.3 1319.2 271.1 1322.0 271.1C1324.1 271.1 1326.1 271.7 1328.1 272.3C1330.5 273.0 1332.9 275.0 1335.3 276.6C1337.4 278.0 1339.4 279.1 1341.4 281.5C1343.0 283.3 1344.6 287.4 1346.2 291.1C1347.9 294.9 1349.5 300.0 1351.1 304.5C1352.7 308.9 1354.3 314.3 1355.9 317.8C1357.5 321.2 1359.1 325.9 1360.8 326.2C1362.4 326.5 1364.0 326.7 1365.6 326.7C1369.6 326.7 1373.7 324.6 1377.7 322.6C1380.1 321.4 1382.5 318.1 1385.0 316.6C1387.8 314.8 1390.6 313.4 1393.4 312.4C1396.7 311.3 1399.9 309.8 1403.1 309.8C1405.5 309.8 1408.0 310.8 1410.4 311.7C1412.8 312.6 1415.2 315.8 1417.6 316.6C1420.9 317.6 1424.1 318.0 1427.3 318.5C1430.5 319.0 1433.8 319.7 1437.0 319.7C1439.4 319.7 1441.8 315.7 1444.3 312.9C1446.3 310.6 1448.3 306.0 1450.3 303.7C1452.3 301.5 1454.3 299.2 1456.4 298.4C1458.8 297.5 1461.2 296.7 1463.6 296.7C1467.7 296.7 1471.7 297.5 1475.7 298.4C1478.1 299.0 1480.6 300.3 1483.0 302.0C1485.4 303.7 1487.8 306.6 1490.2 310.5C1491.9 313.1 1493.5 317.4 1495.1 322.6C1496.7 327.8 1498.3 336.7 1499.9 344.4C1501.5 352.0 1503.1 359.5 1504.8 368.6C1506.4 377.7 1508.0 388.2 1509.6 400.1C1511.2 411.9 1512.8 430.6 1514.4 441.2C1516.9 457.2 1519.3 469.8 1521.7 479.4C1524.5 490.5 1527.4 501.2 1530.2 506.0C1532.2 509.4 1534.2 510.2 1536.2 513.2C1537.8 515.7 1539.5 519.1 1541.1 522.9C1542.7 526.8 1544.3 534.2 1545.9 537.4C1547.5 540.7 1549.1 542.6 1550.7 544.7C1554.0 548.9 1557.2 552.0 1560.4 555.6C1563.7 559.2 1566.9 561.7 1570.1 566.5C1572.1 569.5 1574.1 573.6 1576.2 578.6C1577.8 582.6 1579.4 588.7 1581.0 594.3C1582.6 599.9 1584.2 607.1 1585.8 612.5C1587.5 617.9 1589.1 622.8 1590.7 627.0C1592.3 631.1 1593.9 636.9 1595.5 637.9C1597.6 639.1 1599.6 639.1 1601.7 640.0C1603.7 640.9 1605.6 642.0 1607.6 644.0C1608.7 645.0 1609.8 647.6 1610.9 649.3C1614.7 654.7 1618.4 660.2 1622.2 663.8C1624.1 665.7 1626.1 666.3 1628.1 668.4C1629.6 670.0 1631.2 673.0 1632.7 675.7C1634.5 678.8 1636.3 682.0 1638.0 686.3C1639.3 689.5 1640.7 693.3 1642.0 698.1C1642.9 701.4 1643.7 705.9 1644.6 710.0C1645.3 713.2 1645.9 716.1 1646.6 720.0C1647.3 723.9 1647.9 730.0 1648.6 734.5C1649.5 740.6 1650.4 746.0 1651.2 751.7C1652.1 757.4 1653.0 763.4 1653.9 768.9C1654.8 774.4 1655.6 780.0 1656.5 784.8C1657.2 788.3 1657.8 792.8 1658.5 794.7C1660.0 799.1 1661.6 803.3 1663.1 803.3C1664.0 803.3 1664.9 803.1 1665.8 803.0C1666.9 802.8 1668.0 800.4 1669.1 800.0C1671.1 799.2 1673.0 799.3 1675.0 798.6C1677.2 797.9 1679.4 792.8 1681.6 792.4C1683.0 792.2 1684.3 792.2 1685.6 792.0C1687.4 791.7 1689.1 789.8 1690.9 789.8C1694.0 789.8 1697.0 789.8 1700.1 789.8C1701.5 789.8 1702.8 789.8 1704.1 789.8"/>
<path stroke="#007878" d="M120.9 549.1C123.3 544.9 125.6 540.7 127.9 536.6C130.3 532.5 132.6 528.5 134.9 524.5C137.3 520.6 139.6 516.7 141.9 512.9C144.3 509.1 146.6 505.4 148.9 501.7C151.3 498.0 153.6 494.4 155.9 490.8C158.3 487.2 160.6 483.7 162.9 480.3C165.3 476.8 167.6 473.4 169.9 470.0C172.3 466.7 174.6 463.4 176.9 460.1C179.3 456.8 181.6 453.6 183.9 450.4C186.3 447.2 188.6 444.1 190.9 441.0C193.3 437.8 195.6 434.8 197.9 431.7C200.3 428.7 202.6 425.7 204.9 422.7C207.3 419.8 209.6 416.8 211.9 413.9C214.3 411.0 216.6 408.1 218.9 405.3C221.3 402.5 223.6 399.6 225.9 396.9C228.3 394.1 230.6 391.3 232.9 388.6C235.3 385.9 237.6 383.2 239.9 380.6C242.3 377.9 244.6 375.3 246.9 372.7C249.3 370.1 251.6 367.6 253.9 365.1C256.3 362.5 258.6 360.1 260.9 357.6C263.3 355.2 265.6 352.7 267.9 350.4C270.3 348.0 272.6 345.7 274.9 343.4C277.3 341.1 279.6 338.8 281.9 336.6C284.3 334.4 286.6 332.2 288.9 330.1C291.3 328.0 293.6 325.9 295.9 323.9C298.3 321.9 300.6 319.9 302.9 318.0C305.3 316.0 307.6 314.1 309.9 312.3C312.3 310.5 314.6 308.7 316.9 307.0C319.3 305.2 321.6 303.5 323.9 301.9C326.3 300.3 328.6 298.7 330.9 297.2C333.3 295.6 335.6 294.1 337.9 292.7C340.3 291.3 342.6 289.9 344.9 288.6C347.3 287.3 349.6 286.0 351.9 284.8C354.3 283.6 356.6 282.4 358.9 281.3C361.3 280.2 363.6 279.1 365.9 278.1C368.3 277.1 370.6 276.2 372.9 275.3C375.3 274.4 377.6 273.5 379.9 272.7C382.3 271.9 384.6 271.2 386.9 270.5C389.3 269.8 391.6 269.2 393.9 268.6C396.3 268.0 398.6 267.4 400.9 266.9C403.3 266.4 405.6 266.0 407.9 265.6C410.3 265.2 412.6 264.7 414.9 264.5C422.5 263.6 430.1 262.9 437.7 262.6C441.3 262.5 445.0 262.4 448.6 262.4C453.8 262.4 458.9 263.3 464.0 263.7C472.1 264.5 480.2 265.8 488.2 266.4C492.2 266.7 496.1 267.0 500.0 267.0C507.3 267.0 514.7 266.8 522.0 266.4C528.6 266.1 535.2 264.3 541.8 263.7C547.6 263.3 553.5 262.6 559.4 262.6C564.5 262.6 569.6 263.8 574.8 264.6C580.6 265.5 586.5 267.5 592.4 267.9C601.2 268.6 610.0 268.6 618.7 269.0C628.3 269.5 637.8 270.4 647.3 271.2C653.9 271.8 660.5 272.3 667.1 273.0C672.3 273.5 677.4 274.7 682.5 274.7C687.6 274.7 692.8 274.7 697.9 274.5C702.3 274.4 706.7 273.4 711.1 272.5C714.8 271.8 718.4 270.1 722.1 269.2C728.0 267.9 733.8 267.0 739.7 265.9C745.6 264.9 751.4 263.7 757.3 263.1C763.9 262.4 770.5 262.3 777.1 261.6C782.2 260.9 787.3 258.7 792.5 258.0C795.4 257.6 798.3 257.2 801.3 257.2C806.4 257.2 811.5 258.5 816.7 259.4C822.5 260.3 828.4 261.7 834.2 263.1C838.6 264.2 843.0 266.1 847.4 266.8C850.7 267.3 854.0 267.9 857.3 267.9C862.1 267.9 866.9 267.1 871.6 266.4C876.0 265.7 880.4 264.3 884.8 262.4C886.6 261.7 888.3 260.1 890.0 259.4C893.7 257.9 897.3 257.1 901.0 256.1C904.7 255.1 908.3 253.9 912.0 253.2C914.6 252.8 917.1 252.1 919.7 252.1C922.3 252.1 924.8 252.7 927.4 253.2C930.3 253.8 933.2 255.6 936.2 256.7C940.2 258.3 944.2 261.6 948.3 261.6C953.0 261.6 957.8 261.6 962.6 261.6C967.7 261.6 972.8 259.1 978.0 256.7C979.4 256.1 980.9 254.5 982.4 253.9C986.8 252.0 991.2 252.1 995.6 250.1C997.0 249.5 998.5 247.3 1000.0 246.6C1005.1 244.1 1010.2 242.8 1015.3 241.8C1019.0 241.0 1022.7 240.5 1026.3 240.0C1029.3 239.7 1032.2 239.1 1035.1 239.1C1037.3 239.1 1039.5 240.0 1041.7 240.7C1043.6 241.3 1045.4 242.3 1047.2 243.5C1049.1 244.8 1050.9 247.9 1052.7 249.5C1056.4 252.6 1060.1 256.7 1063.7 256.7C1067.4 256.7 1071.1 256.7 1074.7 256.7C1076.9 256.7 1079.1 253.8 1081.3 251.7C1084.2 248.8 1087.2 244.7 1090.1 239.6C1092.3 235.7 1094.5 227.4 1096.7 224.2C1098.9 221.0 1101.1 218.0 1103.3 217.2C1105.1 216.4 1107.0 215.8 1108.8 215.8C1110.6 215.8 1112.5 217.1 1114.3 218.0C1116.5 219.2 1118.7 221.2 1120.9 223.1C1123.8 225.6 1126.8 228.1 1129.7 231.9C1132.6 235.7 1135.6 241.5 1138.5 248.4C1140.7 253.5 1142.9 262.1 1145.1 268.2C1146.9 273.3 1148.8 279.1 1150.6 282.5C1152.4 285.8 1154.2 289.8 1156.1 290.2C1157.5 290.4 1159.0 290.6 1160.5 290.6C1163.4 290.6 1166.3 287.5 1169.3 286.9C1171.5 286.3 1173.7 285.9 1175.9 285.8C1179.5 285.5 1183.2 285.6 1186.9 285.3C1189.8 285.1 1192.7 280.8 1195.7 279.6C1199.3 278.1 1203.0 277.6 1206.7 276.5C1209.6 275.6 1212.5 274.3 1215.5 273.7C1217.7 273.2 1219.9 272.6 1222.1 272.6C1224.2 272.6 1226.4 273.7 1228.6 274.8C1230.8 275.8 1233.0 278.4 1235.2 280.9C1237.4 283.5 1239.6 287.1 1241.8 291.3C1243.3 294.0 1244.8 297.4 1246.2 301.2C1248.4 306.8 1250.6 314.3 1252.8 320.9C1255.0 327.5 1257.2 334.2 1259.4 340.7C1261.6 347.3 1263.8 355.8 1266.0 360.1C1267.4 362.7 1268.7 366.0 1270.0 366.2C1272.8 366.5 1275.6 366.7 1278.5 366.7C1280.9 366.7 1283.3 364.3 1285.7 362.5C1288.2 360.8 1290.6 358.1 1293.0 355.3C1295.0 352.9 1297.0 349.0 1299.0 346.8C1302.3 343.3 1305.5 341.2 1308.7 338.3C1312.0 335.5 1315.2 331.4 1318.4 329.9C1320.8 328.7 1323.2 327.4 1325.7 327.4C1328.1 327.4 1330.5 328.3 1332.9 328.7C1336.2 329.1 1339.4 329.2 1342.6 329.9C1346.2 330.6 1349.9 333.9 1353.5 334.7C1356.3 335.3 1359.1 335.3 1362.0 335.9C1365.2 336.6 1368.4 338.2 1371.7 339.5C1374.9 340.9 1378.1 342.7 1381.3 343.9C1385.4 345.4 1389.4 346.9 1393.4 347.5C1396.7 348.0 1399.9 347.9 1403.1 348.5C1405.5 348.9 1408.0 350.8 1410.4 352.9C1412.4 354.6 1414.4 361.3 1416.4 361.3C1418.0 361.3 1419.7 361.3 1421.3 361.3C1422.9 361.3 1424.5 355.5 1426.1 351.7C1428.1 346.8 1430.1 337.9 1432.2 333.5C1434.6 328.3 1437.0 324.3 1439.4 321.4C1443.0 317.1 1446.7 312.4 1450.3 311.7C1453.9 311.0 1457.6 310.9 1461.2 310.5C1463.2 310.3 1465.2 309.8 1467.2 309.8C1469.3 309.8 1471.3 311.1 1473.3 312.4C1474.9 313.5 1476.5 316.1 1478.1 319.0C1479.8 321.8 1481.4 327.0 1483.0 331.1C1485.0 336.2 1487.0 341.0 1489.0 346.8C1491.0 352.6 1493.1 359.0 1495.1 366.2C1497.5 374.7 1499.9 386.4 1502.3 395.2C1504.8 404.0 1507.2 411.8 1509.6 419.4C1512.0 427.1 1514.4 434.4 1516.9 441.2C1519.3 448.0 1521.7 455.1 1524.1 460.6C1525.7 464.2 1527.4 466.0 1529.0 470.2C1530.6 474.5 1532.2 482.3 1533.8 489.0C1535.4 495.8 1537.0 503.4 1538.6 510.8C1539.9 516.4 1541.1 522.1 1542.3 527.8C1543.5 533.4 1544.7 540.0 1545.9 544.7C1547.1 549.4 1548.3 556.0 1549.5 556.8C1551.2 557.9 1552.8 558.5 1554.4 558.5C1556.0 558.5 1557.6 556.2 1559.2 554.4C1560.8 552.5 1562.4 547.7 1564.1 545.9C1566.1 543.7 1568.1 541.8 1570.1 541.1C1571.9 540.5 1573.7 539.9 1575.4 539.9C1578.5 539.9 1581.6 541.3 1584.6 542.3C1586.6 542.9 1588.7 544.7 1590.7 544.7C1592.3 544.7 1593.9 542.3 1595.5 541.8C1597.5 541.2 1599.6 540.6 1601.6 540.6C1603.6 540.6 1605.6 541.3 1607.6 542.3C1609.2 543.0 1610.9 546.3 1612.5 548.3C1614.9 551.5 1617.3 555.1 1619.7 558.0C1623.4 562.4 1627.0 567.2 1630.6 570.1C1633.4 572.4 1636.3 573.6 1639.1 575.7C1640.7 576.9 1642.3 577.6 1643.9 579.8C1645.1 581.4 1646.3 586.5 1647.6 590.7C1648.8 594.8 1650.0 599.9 1651.2 605.2C1652.8 612.3 1654.4 620.6 1656.0 629.4C1656.6 632.7 1657.2 636.7 1657.8 640.0C1658.7 644.8 1659.6 648.5 1660.5 653.2C1661.4 657.9 1662.2 663.6 1663.1 668.4C1664.0 673.2 1664.9 679.4 1665.8 682.3C1667.5 688.1 1669.3 690.9 1671.1 694.2C1673.3 698.3 1675.5 701.0 1677.7 704.8C1679.9 708.5 1682.1 711.8 1684.3 716.7C1685.6 719.5 1686.9 723.5 1688.2 727.2C1689.6 731.0 1690.9 735.8 1692.2 739.1C1693.5 742.4 1694.8 745.7 1696.2 747.7C1697.5 749.7 1698.8 750.9 1700.1 752.3C1701.5 753.8 1702.8 755.0 1704.1 756.3"/>
</g>
<g class="g">
<rect x="120.5" y="80.5" width="1580" height="734" fill="none" stroke="#000" shape-rendering="crispEdges"/>
</g>
<text x="121.5" y="66" style="font-size:29.8px">FR Magnitude (dB re 20 uPa/V - 1/3 oct)</text>
<text x="109" y="90.0" text-anchor="end">170.0</text>
<text x="109" y="163.4" text-anchor="end">165.0</text>
<text x="109" y="236.8" text-anchor="end">160.0</text>
<text x="109" y="310.2" text-anchor="end">155.0</text>
<text x="109" y="383.6" text-anchor="end">150.0</text>
<text x="109" y="457.0" text-anchor="end">145.0</text>
<text x="109" y="530.4" text-anchor="end">140.0</text>
<text x="109" y="603.8" text-anchor="end">135.0</text>
<text x="109" y="677.2" text-anchor="end">130.0</text>
<text x="109" y="750.6" text-anchor="end">125.0</text>
<text x="109" y="824.0" text-anchor="end">120.0</text>
<text x="120.0" y="855.5" text-anchor="middle">20</text>
<text x="329.6" y="855.5" text-anchor="middle">50</text>
<text x="488.1" y="855.5" text-anchor="middle">100</text>
<text x="646.7" y="855.5" text-anchor="middle">200</text>
<text x="856.2" y="855.5" text-anchor="middle">500</text>
<text x="1014.8" y="855.5" text-anchor="middle">1k</text>
<text x="1173.3" y="855.5" text-anchor="middle">2k</text>
<text x="1382.9" y="855.5" text-anchor="middle">5k</text>
<text x="1541.5" y="855.5" text-anchor="middle">10k</text>
<text x="1700.0" y="855.5" text-anchor="middle">20k</text>
<text x="1705" y="106">A</text>
<text x="1705" y="136">R</text>
<text x="1705" y="166">T</text>
<text x="1705" y="196">A</text>
<text x="1700" y="896" text-anchor="end">F(Hz)</text>
<text x="120" y="896" style="font-size:27.4px">Cursor: 20.10 Hz, 116.92 dB</text>
<text x="119.5" y="936" style="font-size:27.45px">первая 8 от вплотную до 50 см по оси</text>
</svg></body></html>
